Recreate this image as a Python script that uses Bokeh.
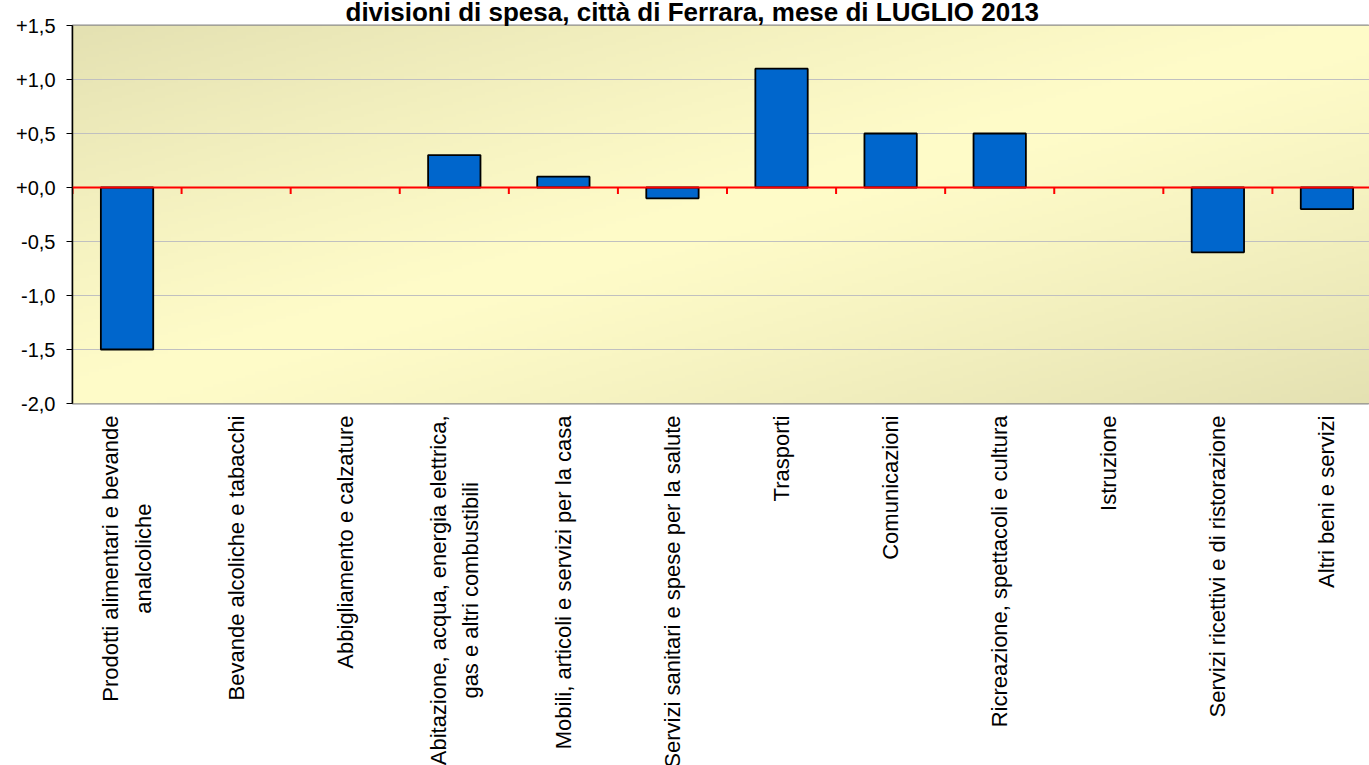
import numpy as np
from bokeh.plotting import figure
from bokeh.layouts import column
from bokeh.models import Range1d, Span, FixedTicker, ColumnDataSource
from bokeh.core.properties import value
from bokeh.embed import file_html
from bokeh.resources import INLINE

# ---- data ----
categories = [
    "Prodotti alimentari e bevande\nanalcoliche",
    "Bevande alcoliche e tabacchi",
    "Abbigliamento e calzature",
    "Abitazione, acqua, energia elettrica,\ngas e altri combustibili",
    "Mobili, articoli e servizi per la casa",
    "Servizi sanitari e spese per la salute",
    "Trasporti",
    "Comunicazioni",
    "Ricreazione, spettacoli e cultura",
    "Istruzione",
    "Servizi ricettivi e di ristorazione",
    "Altri beni e servizi",
]
values = [-1.5, 0.0, 0.0, 0.3, 0.1, -0.1, 1.1, 0.5, 0.5, 0.0, -0.6, -0.2]
y_ticks = [-2.0, -1.5, -1.0, -0.5, 0.0, 0.5, 1.0, 1.5]
y_tick_labels = ["-2,0", "-1,5", "-1,0", "-0,5", "+0,0", "+0,5", "+1,0", "+1,5"]
title_text = "divisioni di spesa, città di Ferrara, mese di LUGLIO 2013"

FONT = "Liberation Sans"
n = len(categories)
centers = [i + 0.5 for i in range(n)]
bounds = list(range(n))
x_visible_end = 11.89  # the original chart is cut at the right edge

W = 1369
MAIN_H = 415
LAB_H = 765 - MAIN_H
LEFT = 72

x_range = Range1d(0, x_visible_end)

# ---- main chart ----
p = figure(width=W, height=MAIN_H, output_backend="svg", toolbar_location=None, tools="",
           x_range=x_range, y_range=Range1d(y_ticks[0], y_ticks[-1]),
           x_axis_location=None, title=title_text,
           min_border_left=LEFT, min_border_right=0, min_border_top=24, min_border_bottom=12)
p.border_fill_color = "white"
p.background_fill_color = "#fbf8c5"
p.outline_line_color = "#8c8c8c"
p.outline_line_width = 2

p.title.text_font = FONT
p.title.text_font_size = "26px"
p.title.text_font_style = "bold"
p.title.text_color = "black"
p.title.align = "left"
p.title.offset = 273
p.title.vertical_align = "top"
p.title.standoff = -7

# background gradient
ny, nx = 120, 400
u = np.linspace(0, 1, nx)[None, :]
v = np.linspace(1, 0, ny)[:, None]
t = (u + v) / 2.0
d = np.abs(2 * t - 1) ** 1.2
light = np.array([255, 252, 201], dtype=float)
dark = np.array([228, 225, 178], dtype=float)
rgb = light[None, None, :] + (dark - light)[None, None, :] * d[..., None]
img = np.empty((ny, nx, 4), dtype=np.uint8)
img[..., :3] = rgb.astype(np.uint8)
img[..., 3] = 255
img32 = img.view(dtype=np.uint32).reshape((ny, nx))
bg = p.image_rgba(image=[img32], x=0, y=y_ticks[0], dw=n, dh=y_ticks[-1] - y_ticks[0])
bg.level = "image"

# grid
for g in p.xgrid:
    g.visible = False
p.ygrid.ticker = FixedTicker(ticks=y_ticks)
p.ygrid.grid_line_color = "#c0c0c0"
p.ygrid.grid_line_width = 1

# y axis
p.yaxis.ticker = FixedTicker(ticks=y_ticks)
p.yaxis.major_label_overrides = dict(zip(y_ticks, y_tick_labels))
p.yaxis.axis_line_color = "black"
p.yaxis.axis_line_width = 1.5
p.yaxis.major_tick_line_color = "black"
p.yaxis.major_tick_out = 6
p.yaxis.major_tick_in = 0
p.yaxis.minor_tick_out = 0
p.yaxis.minor_tick_in = 0
p.yaxis.major_label_standoff = 11
p.yaxis.major_label_text_font = FONT
p.yaxis.major_label_text_font_size = "20px"
p.yaxis.major_label_text_color = "black"

# bars (zero-valued bars have no visible outline, as in the original)
bar_src = ColumnDataSource(dict(
    x=centers, top=values,
    line_alpha=[0.0 if val == 0 else 1.0 for val in values],
))
p.vbar(x="x", top="top", bottom=0, width=0.48, source=bar_src,
       fill_color="#0066cc", line_color="black", line_width=1.8, line_alpha="line_alpha")

# red zero axis with category ticks
p.segment(x0=bounds, y0=[0] * n, x1=bounds, y1=[-0.06] * n,
          line_color="#ff0000", line_width=2)
p.add_layout(Span(location=0, dimension="width", line_color="#ff0000", line_width=2))

# ---- category labels strip (rotated text, cut at the bottom like the original) ----
q = figure(width=W, height=LAB_H, output_backend="svg", toolbar_location=None, tools="",
           x_range=x_range, y_range=Range1d(-LAB_H, 0),
           x_axis_location=None, y_axis_location=None,
           min_border_left=LEFT, min_border_right=0, min_border_top=0, min_border_bottom=0)
q.outline_line_color = None
q.background_fill_color = "white"
q.border_fill_color = "white"
q.grid.visible = False
q.text(x=centers, y=[0] * n, text=categories, angle=np.pi / 2,
       anchor="center_right", text_align="center", text_baseline="middle",
       text_font=value(FONT), text_font_size="22px", text_line_height=1.3,
       text_color="black")

layout = column(p, q, spacing=0)
open("out.html", "w").write(file_html(layout, INLINE))
